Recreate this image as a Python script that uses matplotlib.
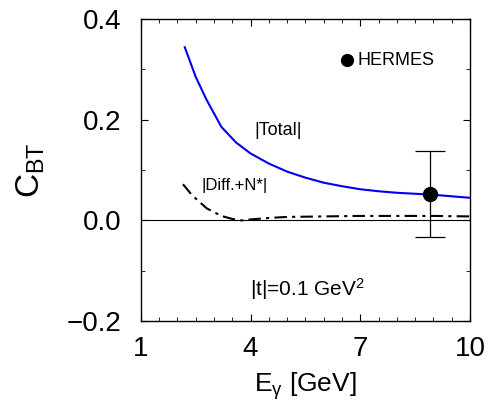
import matplotlib
matplotlib.use("Agg")
import matplotlib.pyplot as plt
from matplotlib.ticker import MultipleLocator, FixedLocator

plt.rcParams['font.family'] = ['Liberation Sans', 'DejaVu Sans']
plt.rcParams['mathtext.fontset'] = 'custom'
plt.rcParams['mathtext.rm'] = 'Liberation Sans'
plt.rcParams['mathtext.it'] = 'Liberation Sans'

# |Total| curve
total_e = [2.2, 2.5, 2.8, 3.2, 3.6, 4.0, 4.5, 5.0, 5.5, 6.0, 6.5, 7.0, 7.5, 8.0, 8.5, 9.0, 9.5, 10.0]
total_c = [0.344, 0.285, 0.239, 0.186, 0.155, 0.133, 0.113, 0.097, 0.085, 0.075, 0.068, 0.062, 0.058, 0.055, 0.053, 0.051, 0.048, 0.045]

# |Diff.+N*| curve
diff_e = [2.15, 2.4, 2.8, 3.2, 3.5, 3.76, 4.0, 4.5, 5.0, 6.0, 7.0, 8.0, 9.0, 10.0]
diff_c = [0.072, 0.050, 0.024, 0.009, 0.003, 0.000, 0.002, 0.005, 0.007, 0.008, 0.009, 0.009, 0.009, 0.008]

# HERMES data point
hermes_e = [8.9]
hermes_c = [0.052]
hermes_err = [0.085]

xticks = [1, 4, 7, 10]
yticks = [-0.2, 0.0, 0.2, 0.4]
ylabels = ['\u22120.2', '0.0', '0.2', '0.4']

fig = plt.figure(figsize=(4.91, 4.05), dpi=100)
ax = fig.add_axes([0.287, 0.207, 0.670, 0.746])

ax.axhline(0, color='black', lw=0.8)
ax.plot(total_e, total_c, color='#0000ee', lw=1.5)
ax.plot(diff_e, diff_c, color='black', lw=1.5, dashes=(6, 2.5, 1.5, 2.5))
ax.errorbar(hermes_e, hermes_c, yerr=hermes_err, fmt='o', color='black',
            ms=10, capsize=11, elinewidth=0.9, capthick=0.9)

ax.plot([6.65], [0.318], 'o', color='black', ms=8.5)
ax.text(6.93, 0.318, 'HERMES', fontsize=13, va='center', ha='left')
ax.text(4.75, 0.178, '|Total|', fontsize=13, ha='center', va='center')
ax.text(3.57, 0.07, '|Diff.+N*|', fontsize=12, ha='center', va='center')
ax.text(5.57, -0.137, '|t|=0.1 GeV$^2$', fontsize=15, ha='center', va='center')

ax.set_xlim(1, 10)
ax.set_ylim(-0.2, 0.4)
ax.xaxis.set_major_locator(FixedLocator(xticks))
ax.xaxis.set_minor_locator(MultipleLocator(0.5))
ax.set_yticks(yticks)
ax.set_yticklabels(ylabels)
ax.yaxis.set_minor_locator(MultipleLocator(0.1))
ax.tick_params(which='both', direction='in', top=True, right=True, labelsize=20)
ax.tick_params(axis='x', pad=11)
ax.tick_params(axis='y', pad=14)
ax.tick_params(which='major', length=5)
ax.tick_params(which='minor', length=3)
for s in ax.spines.values():
    s.set_linewidth(1.0)

ax.set_xlabel('E$_{\\mathrm{\u03b3}}$ [GeV]', fontsize=19, labelpad=6)
ax.set_ylabel('C$_{\\mathrm{BT}}$', fontsize=24, labelpad=14)

fig.savefig('out.png', dpi=100)
